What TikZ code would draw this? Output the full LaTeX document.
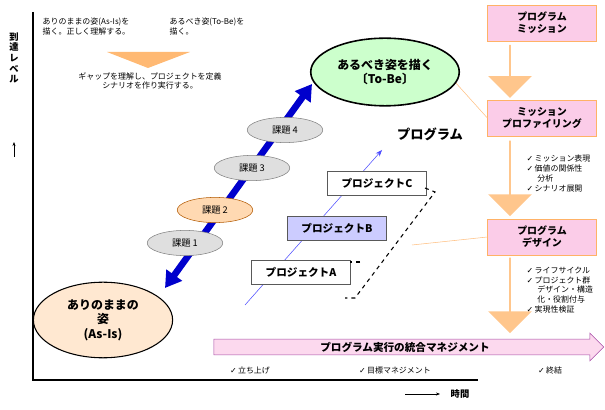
\documentclass[tikz,border=0pt]{standalone}
\usepackage{fontspec}
\setmainfont{Noto Sans CJK JP}
\newfontfamily\symfont{DejaVu Sans}
\usetikzlibrary{shapes.geometric,shapes.arrows,arrows.meta}
\newcommand{\chk}{{\symfont\char"2713}\,}
\begin{document}
\begin{tikzpicture}[x=0.0265cm,y=-0.0265cm,font=\fontsize{6}{7}\selectfont]
  \tikzset{
    kadai/.style={ellipse,draw=gray,fill=gray!25,minimum width=57,minimum height=19,inner sep=0pt,font=\fontsize{7}{8}\selectfont},
    proj/.style={draw=gray!70!black,fill=white,minimum width=75,minimum height=18,font=\fontsize{8}{9}\selectfont\bfseries},
    side/.style={draw=orange!60,fill=magenta!20,minimum width=82,minimum height=27,inner sep=1pt,align=center,font=\fontsize{7.5}{9}\selectfont\bfseries},
    down/.style={single arrow,shape border rotate=270,draw=none,fill=orange!45,minimum width=33,single arrow head extend=5pt,inner sep=0pt},
    lst/.style={align=left,anchor=north west,font=\fontsize{6}{7.5}\selectfont}
  }
  \useasboundingbox (0,0) rectangle (605,410);
  % axes
  \draw[line width=1pt] (33,12) -- (33,380) -- (478,380);
  \node[align=center,font=\fontsize{7}{8}\selectfont\bfseries] (ylab) at (14,58) {到\\達\\レ\\ベ\\ル};
  \draw[-{Stealth[length=3pt]}] (14,157) -- (14,142);
  \draw[-{Stealth[length=3pt]}] (405,394) -- (440,394);
  \node[font=\fontsize{7}{8}\selectfont\bfseries] (xlab) at (460,394) {時間};
  % top notes
  \node[lst] (asisnote) at (38,13) {ありのままの姿(As-Is)を\\描く。正しく理解する。};
  \node[lst] (tobenote) at (165,13) {あるべき姿(To-Be)を\\描く。};
  \fill[orange!55] (107,52) -- (190,52) -- (148,68) -- cycle;
  \node[align=center] (gap) at (150,81) {ギャップを理解し、プロジェクトを定義\\シナリオを作り実行する。};
  % right column
  \node[down,minimum height=40] (d1) at (510,71) {};
  \node[down,minimum height=57] (d2) at (510,178) {};
  \node[down,minimum height=57] (d3) at (510,295) {};
  \node[side] (mission) at (542,23) {プログラム\\ミッション};
  \node[side] (prof) at (542,118) {ミッション\\プロファイリング};
  \node[side] (design) at (542,237) {プログラム\\デザイン};
  \node[lst] (l1) at (522,150) {\chk ミッション表現\\\chk 価値の関係性\\\hspace{8pt}分析\\\chk シナリオ展開};
  \node[lst] (l2) at (522,262) {\chk ライフサイクル\\\chk プロジェクト群\\\hspace{8pt}デザイン・構造\\\hspace{8pt}化・役割付与\\\chk 実現性検証};
  \draw[orange!50] (455,82) -- (prof.west);
  \draw[orange!50] (412,245) -- (design.west);
  % states
  \node[ellipse,draw,thick,fill=orange!18,minimum width=105,minimum height=57,inner sep=0pt,align=center,font=\fontsize{9}{11}\selectfont\bfseries] (asis) at (103,320) {ありのままの\\姿\\(As-Is)};
  \node[ellipse,draw,very thick,fill=green!20,minimum width=112,minimum height=51,inner sep=0pt,align=center,font=\fontsize{9}{11}\selectfont\bfseries] (tobe) at (385,72) {あるべき姿を描く\\〔To-Be〕};
  \draw[blue!80!black,line width=5pt,{Triangle[length=12pt,width=14pt]}-{Triangle[length=12pt,width=14pt]}] (165,288) -- (312,84);
  % tasks
  \node[kadai] (k4) at (285,130) {課題 4};
  \node[kadai] (k3) at (252,168) {課題 3};
  \node[kadai,draw=orange!70!black,fill=orange!30] (k2) at (215,210) {課題 2};
  \node[kadai] (k1) at (185,243) {課題 1};
  % program
  \coordinate (ps) at (245,305);
  \coordinate (pe) at (382,150);
  \draw[blue!70,-{Stealth[length=5pt]}] (ps) -- (pe);
  \node[font=\fontsize{10}{11}\selectfont\bfseries] (prog) at (430,134) {プログラム};
  \node[proj] (pc) at (377,183) {プロジェクトC};
  \node[proj,fill=blue!20] (pb) at (337,228) {プロジェクトB};
  \node[proj] (pa) at (301,272) {プロジェクトA};
  \coordinate (b1) at (425,188);
  \coordinate (b2) at (435,192);
  \coordinate (b3) at (355,298);
  \coordinate (b4) at (345,298);
  \draw[dashed,thick] (b1) -- (b2) -- (b3) -- (b4);
  \draw[dashed,thick] (360,262) -- (350,262);
  % management arrow
  \node[single arrow,draw=violet!70,fill=magenta!15,minimum width=21,single arrow head extend=4pt,minimum height=294,inner sep=1pt,font=\fontsize{8}{9}\selectfont\bfseries] (mgmt) at (405,347) {プログラム実行の統合マネジメント};
  \node (m1) at (250,370) {\chk 立ち上げ};
  \node (m2) at (395,370) {\chk 目標マネジメント};
  \node (m3) at (550,370) {\chk 終結};
\end{tikzpicture}
\end{document}
